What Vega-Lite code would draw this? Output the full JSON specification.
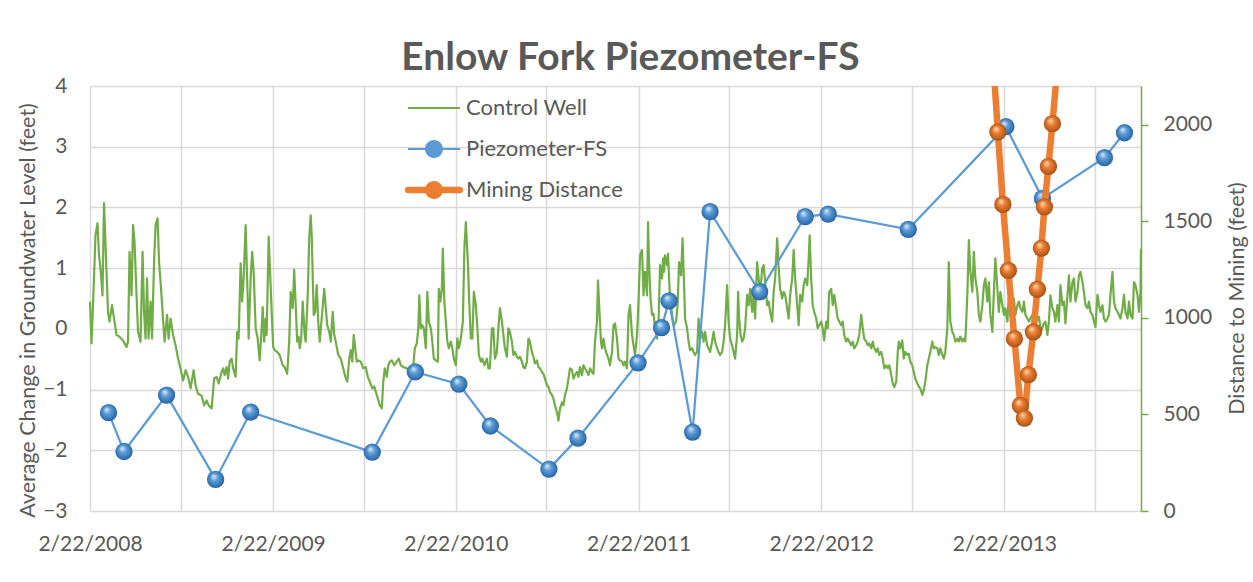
{
  "$schema": "https://vega.github.io/schema/vega-lite/v6.json",
  "width": 1051,
  "height": 425,
  "autosize": {"type": "none"},
  "padding": {"left": 90, "top": 86, "right": 112, "bottom": 71},
  "background": "white",
  "title": {"text": "Enlow Fork Piezometer-FS", "font": "Lato", "fontSize": 39, "fontWeight": "bold", "color": "#595959", "anchor": "middle", "frame": "group", "dx": 15, "dy": 50, "offset": 16, "baseline": "alphabetic"},
  "config": {
    "view": {"stroke": null},
    "font": "Lato",
    "axis": {"labelFont": "Lato", "titleFont": "Lato", "labelColor": "#595959", "titleColor": "#595959", "labelFontSize": 21, "titleFontSize": 21.5, "titleFontWeight": "normal"}
  },
  "datasets": {
    "control": [
      {"date":"2008-02-22","level":0.45},{"date":"2008-02-25","level":-0.24},{"date":"2008-02-28","level":0.39},{"date":"2008-03-04","level":1.54},{"date":"2008-03-08","level":1.74},{"date":"2008-03-11","level":1.21},{"date":"2008-03-14","level":0.99},{"date":"2008-03-18","level":0.55},{"date":"2008-03-21","level":2.07},{"date":"2008-03-26","level":0.94},{"date":"2008-03-29","level":0.28},{"date":"2008-04-01","level":0.12},{"date":"2008-04-06","level":0.39},{"date":"2008-04-10","level":0.17},{"date":"2008-04-15","level":-0.10},{"date":"2008-04-21","level":-0.13},{"date":"2008-04-28","level":-0.19},{"date":"2008-05-05","level":-0.30},{"date":"2008-05-08","level":-0.21},{"date":"2008-05-11","level":1.27},{"date":"2008-05-15","level":0.55},{"date":"2008-05-18","level":1.71},{"date":"2008-05-21","level":1.43},{"date":"2008-05-25","level":0.55},{"date":"2008-05-28","level":-0.05},{"date":"2008-06-02","level":-0.21},{"date":"2008-06-06","level":1.27},{"date":"2008-06-09","level":0.28},{"date":"2008-06-12","level":-0.16},{"date":"2008-06-15","level":0.83},{"date":"2008-06-18","level":-0.16},{"date":"2008-06-22","level":0.45},{"date":"2008-06-25","level":-0.16},{"date":"2008-06-29","level":1.10},{"date":"2008-07-02","level":1.71},{"date":"2008-07-06","level":1.82},{"date":"2008-07-09","level":1.10},{"date":"2008-07-12","level":0.77},{"date":"2008-07-16","level":0.28},{"date":"2008-07-20","level":-0.21},{"date":"2008-07-25","level":0.23},{"date":"2008-07-28","level":-0.16},{"date":"2008-08-01","level":0.17},{"date":"2008-08-06","level":-0.10},{"date":"2008-08-11","level":-0.27},{"date":"2008-08-16","level":-0.49},{"date":"2008-08-21","level":-0.66},{"date":"2008-08-26","level":-0.85},{"date":"2008-08-31","level":-0.68},{"date":"2008-09-05","level":-0.79},{"date":"2008-09-10","level":-0.98},{"date":"2008-09-16","level":-0.68},{"date":"2008-09-20","level":-0.93},{"date":"2008-09-25","level":-1.07},{"date":"2008-10-02","level":-1.10},{"date":"2008-10-07","level":-1.26},{"date":"2008-10-12","level":-1.18},{"date":"2008-10-16","level":-1.26},{"date":"2008-10-22","level":-1.31},{"date":"2008-10-27","level":-0.82},{"date":"2008-11-01","level":-0.79},{"date":"2008-11-05","level":-0.90},{"date":"2008-11-11","level":-0.71},
      {"date":"2008-11-14","level":-0.65},{"date":"2008-11-17","level":-0.76},{"date":"2008-11-21","level":-0.63},{"date":"2008-11-24","level":-0.82},{"date":"2008-11-27","level":-0.54},{"date":"2008-12-01","level":-0.49},{"date":"2008-12-04","level":-0.65},{"date":"2008-12-09","level":-0.79},{"date":"2008-12-12","level":-0.05},{"date":"2008-12-15","level":-0.16},{"date":"2008-12-19","level":1.08},{"date":"2008-12-22","level":0.45},{"date":"2008-12-25","level":0.83},{"date":"2008-12-29","level":1.71},{"date":"2009-01-01","level":0.83},{"date":"2009-01-04","level":-0.16},{"date":"2009-01-08","level":0.83},{"date":"2009-01-11","level":1.27},{"date":"2009-01-14","level":0.94},{"date":"2009-01-18","level":0.01},{"date":"2009-01-22","level":-0.16},{"date":"2009-01-26","level":-0.52},{"date":"2009-01-30","level":0.01},{"date":"2009-02-01","level":0.36},{"date":"2009-02-04","level":-0.21},{"date":"2009-02-07","level":0.17},{"date":"2009-02-09","level":-0.10},{"date":"2009-02-13","level":1.52},{"date":"2009-02-15","level":1.10},{"date":"2009-02-19","level":0.28},{"date":"2009-02-22","level":-0.30},{"date":"2009-02-25","level":-0.35},{"date":"2009-03-02","level":-0.38},{"date":"2009-03-07","level":-0.43},{"date":"2009-03-13","level":-0.60},{"date":"2009-03-17","level":-0.63},{"date":"2009-03-22","level":-0.74},{"date":"2009-03-26","level":-0.21},{"date":"2009-03-29","level":0.61},{"date":"2009-04-02","level":0.34},{"date":"2009-04-05","level":0.97},{"date":"2009-04-08","level":0.39},{"date":"2009-04-11","level":-0.21},{"date":"2009-04-14","level":-0.13},{"date":"2009-04-16","level":-0.32},{"date":"2009-04-19","level":-0.16},{"date":"2009-04-22","level":0.45},{"date":"2009-04-26","level":-0.10},{"date":"2009-04-28","level":-0.21},{"date":"2009-05-02","level":0.55},{"date":"2009-05-05","level":1.49},{"date":"2009-05-08","level":1.87},{"date":"2009-05-10","level":1.54},{"date":"2009-05-14","level":0.23},{"date":"2009-05-17","level":0.28},{"date":"2009-05-20","level":0.72},{"date":"2009-05-23","level":0.12},{"date":"2009-05-26","level":-0.21},{"date":"2009-06-04","level":0.66},{"date":"2009-06-06","level":0.45},{"date":"2009-06-10","level":0.06},{"date":"2009-06-14","level":-0.05},{"date":"2009-06-17","level":-0.21},{"date":"2009-06-21","level":0.28},{"date":"2009-06-24","level":-0.10},{"date":"2009-06-27","level":-0.21},{"date":"2009-07-02","level":-0.43},{"date":"2009-07-07","level":-0.49},{"date":"2009-07-12","level":-0.65},{"date":"2009-07-16","level":-0.79},{"date":"2009-07-20","level":-0.87},{"date":"2009-07-24","level":-0.49},{"date":"2009-07-27","level":-0.35},{"date":"2009-07-30","level":-0.54},{"date":"2009-08-02","level":-0.10},{"date":"2009-08-05","level":-0.32},{"date":"2009-08-08","level":-0.54},
      {"date":"2009-08-11","level":-0.52},{"date":"2009-08-16","level":-0.54},{"date":"2009-08-21","level":-0.65},{"date":"2009-08-26","level":-0.63},{"date":"2009-08-30","level":-0.79},{"date":"2009-09-03","level":-0.87},{"date":"2009-09-08","level":-0.98},{"date":"2009-09-12","level":-0.95},{"date":"2009-09-17","level":-1.09},{"date":"2009-09-20","level":-1.17},{"date":"2009-09-23","level":-1.26},{"date":"2009-09-27","level":-1.31},{"date":"2009-09-30","level":-0.87},{"date":"2009-10-03","level":-0.65},{"date":"2009-10-07","level":-0.79},{"date":"2009-10-10","level":-0.60},{"date":"2009-10-13","level":-0.54},{"date":"2009-10-17","level":-0.52},{"date":"2009-10-22","level":-0.60},{"date":"2009-10-27","level":-0.54},{"date":"2009-10-31","level":-0.49},{"date":"2009-11-04","level":-0.60},{"date":"2009-11-09","level":-0.63},{"date":"2009-11-16","level":-0.65},{"date":"2009-11-22","level":-0.68},{"date":"2009-11-29","level":-0.60},{"date":"2009-12-02","level":-0.32},{"date":"2009-12-06","level":-0.24},{"date":"2009-12-09","level":0.01},{"date":"2009-12-11","level":0.55},{"date":"2009-12-14","level":0.01},{"date":"2009-12-17","level":0.06},{"date":"2009-12-20","level":0.01},{"date":"2009-12-24","level":-0.32},{"date":"2009-12-27","level":0.61},{"date":"2009-12-30","level":0.12},{"date":"2010-01-03","level":0.01},{"date":"2010-01-06","level":-0.21},{"date":"2010-01-09","level":-0.49},{"date":"2010-01-13","level":-0.52},{"date":"2010-01-17","level":-0.54},{"date":"2010-01-19","level":0.66},{"date":"2010-01-22","level":0.45},{"date":"2010-01-25","level":0.66},{"date":"2010-01-27","level":1.32},{"date":"2010-01-30","level":0.45},{"date":"2010-02-02","level":0.12},{"date":"2010-02-05","level":-0.21},{"date":"2010-02-08","level":-0.32},{"date":"2010-02-12","level":-0.21},{"date":"2010-02-15","level":-0.32},{"date":"2010-02-18","level":-0.49},{"date":"2010-02-22","level":-0.60},{"date":"2010-02-25","level":-0.16},{"date":"2010-02-28","level":-0.32},{"date":"2010-03-04","level":-0.16},{"date":"2010-03-08","level":0.12},{"date":"2010-03-11","level":1.32},{"date":"2010-03-14","level":1.76},{"date":"2010-03-18","level":1.10},{"date":"2010-03-21","level":0.39},{"date":"2010-03-24","level":-0.16},{"date":"2010-03-27","level":-0.16},{"date":"2010-03-30","level":0.61},{"date":"2010-04-03","level":0.39},{"date":"2010-04-06","level":0.01},{"date":"2010-04-09","level":-0.43},{"date":"2010-04-13","level":-0.54},{"date":"2010-04-16","level":-0.49},{"date":"2010-04-20","level":-0.60},{"date":"2010-04-25","level":-0.49},{"date":"2010-04-28","level":-0.65},{"date":"2010-05-01","level":-0.65},{"date":"2010-05-05","level":0.01},
      {"date":"2010-05-08","level":0.01},{"date":"2010-05-11","level":-0.49},{"date":"2010-05-15","level":-0.38},{"date":"2010-05-18","level":0.01},{"date":"2010-05-21","level":0.34},{"date":"2010-05-25","level":0.12},{"date":"2010-05-28","level":-0.10},{"date":"2010-05-31","level":-0.32},{"date":"2010-06-04","level":-0.46},{"date":"2010-06-07","level":0.01},{"date":"2010-06-10","level":-0.05},{"date":"2010-06-14","level":-0.21},{"date":"2010-06-17","level":-0.43},{"date":"2010-06-20","level":-0.38},{"date":"2010-06-24","level":-0.46},{"date":"2010-06-27","level":-0.49},{"date":"2010-06-30","level":-0.46},{"date":"2010-07-04","level":-0.54},{"date":"2010-07-07","level":-0.63},{"date":"2010-07-10","level":-0.65},{"date":"2010-07-14","level":-0.54},{"date":"2010-07-17","level":-0.16},{"date":"2010-07-20","level":-0.21},{"date":"2010-07-24","level":-0.38},{"date":"2010-07-27","level":-0.46},{"date":"2010-07-30","level":-0.57},{"date":"2010-08-03","level":-0.52},{"date":"2010-08-06","level":-0.63},{"date":"2010-08-09","level":-0.65},{"date":"2010-08-13","level":-0.71},{"date":"2010-08-16","level":-0.74},{"date":"2010-08-19","level":-0.82},{"date":"2010-08-23","level":-0.93},{"date":"2010-08-26","level":-0.95},{"date":"2010-08-29","level":-1.04},{"date":"2010-09-02","level":-1.09},{"date":"2010-09-05","level":-1.15},{"date":"2010-09-08","level":-1.26},{"date":"2010-09-12","level":-1.37},{"date":"2010-09-15","level":-1.51},{"date":"2010-09-18","level":-1.32},{"date":"2010-09-22","level":-1.21},{"date":"2010-09-25","level":-1.26},{"date":"2010-09-28","level":-1.09},{"date":"2010-10-02","level":-0.98},{"date":"2010-10-05","level":-0.82},{"date":"2010-10-08","level":-0.65},{"date":"2010-10-12","level":-0.68},{"date":"2010-10-15","level":-0.82},{"date":"2010-10-18","level":-0.76},{"date":"2010-10-22","level":-0.71},{"date":"2010-10-25","level":-0.79},{"date":"2010-10-28","level":-0.63},{"date":"2010-11-01","level":-0.76},{"date":"2010-11-04","level":-0.60},{"date":"2010-11-07","level":-0.65},{"date":"2010-11-11","level":-0.71},{"date":"2010-11-14","level":-0.76},{"date":"2010-11-17","level":-0.65},{"date":"2010-11-21","level":-0.71},{"date":"2010-11-24","level":-0.74},{"date":"2010-11-27","level":-0.21},{"date":"2010-12-01","level":0.12},{"date":"2010-12-03","level":0.80},{"date":"2010-12-06","level":0.28},{"date":"2010-12-09","level":-0.21},{"date":"2010-12-11","level":-0.32},{"date":"2010-12-14","level":-0.16},{"date":"2010-12-17","level":-0.32},{"date":"2010-12-21","level":-0.43},{"date":"2010-12-24","level":-0.49},{"date":"2010-12-27","level":-0.60},{"date":"2010-12-31","level":-0.38},{"date":"2011-01-03","level":0.06},{"date":"2011-01-06","level":0.09},{"date":"2011-01-10","level":-0.16},{"date":"2011-01-13","level":-0.49},{"date":"2011-01-16","level":-0.52},{"date":"2011-01-20","level":-0.54},{"date":"2011-01-23","level":-0.60},{"date":"2011-01-26","level":-0.54},{"date":"2011-01-30","level":-0.65},
      {"date":"2011-02-02","level":0.23},{"date":"2011-02-05","level":0.39},{"date":"2011-02-09","level":-0.10},{"date":"2011-02-12","level":-0.27},{"date":"2011-02-15","level":-0.43},{"date":"2011-02-19","level":-0.10},{"date":"2011-02-22","level":0.45},{"date":"2011-02-25","level":1.21},{"date":"2011-03-01","level":1.30},{"date":"2011-03-04","level":0.55},{"date":"2011-03-07","level":0.94},{"date":"2011-03-11","level":0.55},{"date":"2011-03-13","level":1.76},{"date":"2011-03-15","level":1.10},{"date":"2011-03-18","level":0.50},{"date":"2011-03-21","level":0.23},{"date":"2011-03-24","level":0.25},{"date":"2011-03-27","level":0.01},{"date":"2011-03-31","level":-0.16},{"date":"2011-04-03","level":0.12},{"date":"2011-04-06","level":1.05},{"date":"2011-04-10","level":0.83},{"date":"2011-04-12","level":1.16},{"date":"2011-04-14","level":0.94},{"date":"2011-04-16","level":1.21},{"date":"2011-04-20","level":1.05},{"date":"2011-04-22","level":1.24},{"date":"2011-04-25","level":0.66},{"date":"2011-04-28","level":0.39},{"date":"2011-05-01","level":0.17},{"date":"2011-05-04","level":0.06},{"date":"2011-05-08","level":0.12},{"date":"2011-05-11","level":0.39},{"date":"2011-05-14","level":1.10},{"date":"2011-05-18","level":0.88},{"date":"2011-05-21","level":1.49},{"date":"2011-05-24","level":0.72},{"date":"2011-05-26","level":0.17},{"date":"2011-05-30","level":0.01},{"date":"2011-06-02","level":-0.21},{"date":"2011-06-05","level":-0.35},{"date":"2011-06-09","level":-0.32},{"date":"2011-06-12","level":-0.38},{"date":"2011-06-15","level":-0.43},{"date":"2011-06-19","level":-0.38},{"date":"2011-06-22","level":0.17},{"date":"2011-06-25","level":-0.16},{"date":"2011-06-29","level":-0.05},{"date":"2011-07-02","level":-0.21},{"date":"2011-07-05","level":-0.05},{"date":"2011-07-09","level":-0.27},{"date":"2011-07-12","level":-0.32},{"date":"2011-07-15","level":-0.38},{"date":"2011-07-19","level":-0.21},{"date":"2011-07-22","level":-0.05},{"date":"2011-07-25","level":-0.21},{"date":"2011-07-29","level":-0.32},{"date":"2011-08-01","level":-0.38},{"date":"2011-08-04","level":-0.43},{"date":"2011-08-08","level":-0.38},{"date":"2011-08-11","level":-0.21},{"date":"2011-08-14","level":0.06},{"date":"2011-08-18","level":0.72},{"date":"2011-08-21","level":0.12},{"date":"2011-08-24","level":-0.16},{"date":"2011-08-28","level":-0.27},{"date":"2011-08-31","level":-0.38},{"date":"2011-09-03","level":-0.49},{"date":"2011-09-07","level":-0.10},{"date":"2011-09-09","level":0.61},{"date":"2011-09-11","level":0.17},{"date":"2011-09-14","level":-0.10},{"date":"2011-09-17","level":-0.21},{"date":"2011-09-20","level":-0.16},{"date":"2011-09-23","level":0.01},{"date":"2011-09-27","level":0.56},{"date":"2011-09-30","level":0.39},{"date":"2011-10-03","level":0.66},{"date":"2011-10-07","level":0.28},{"date":"2011-10-10","level":0.56},{"date":"2011-10-13","level":0.17},{"date":"2011-10-17","level":1.10},{"date":"2011-10-20","level":0.83},{"date":"2011-10-23","level":0.56},{"date":"2011-10-27","level":0.99},{"date":"2011-10-30","level":1.05},
      {"date":"2011-11-02","level":0.77},{"date":"2011-11-06","level":0.39},{"date":"2011-11-09","level":0.45},{"date":"2011-11-12","level":0.28},{"date":"2011-11-16","level":0.12},{"date":"2011-11-19","level":0.61},{"date":"2011-11-22","level":0.83},{"date":"2011-11-26","level":1.49},{"date":"2011-11-29","level":1.00},{"date":"2011-12-02","level":0.66},{"date":"2011-12-06","level":0.50},{"date":"2011-12-09","level":0.61},{"date":"2011-12-12","level":0.56},{"date":"2011-12-16","level":0.34},{"date":"2011-12-19","level":0.17},{"date":"2011-12-22","level":0.56},{"date":"2011-12-26","level":0.83},{"date":"2011-12-29","level":1.30},{"date":"2012-01-01","level":0.83},{"date":"2012-01-05","level":0.39},{"date":"2012-01-08","level":0.06},{"date":"2012-01-11","level":0.56},{"date":"2012-01-15","level":0.45},{"date":"2012-01-18","level":0.72},{"date":"2012-01-21","level":0.83},{"date":"2012-01-25","level":0.72},{"date":"2012-01-28","level":1.16},{"date":"2012-01-30","level":1.54},{"date":"2012-02-02","level":0.83},{"date":"2012-02-05","level":0.39},{"date":"2012-02-08","level":0.28},{"date":"2012-02-12","level":0.17},{"date":"2012-02-15","level":0.01},{"date":"2012-02-18","level":0.06},{"date":"2012-02-22","level":0.12},{"date":"2012-02-25","level":0.01},{"date":"2012-02-28","level":-0.19},{"date":"2012-03-03","level":0.12},{"date":"2012-03-06","level":0.01},{"date":"2012-03-09","level":0.61},{"date":"2012-03-13","level":0.66},{"date":"2012-03-16","level":0.39},{"date":"2012-03-19","level":0.56},{"date":"2012-03-23","level":0.34},{"date":"2012-03-26","level":0.17},{"date":"2012-03-29","level":0.12},{"date":"2012-04-02","level":0.06},{"date":"2012-04-05","level":0.12},{"date":"2012-04-08","level":-0.10},{"date":"2012-04-12","level":-0.21},{"date":"2012-04-15","level":-0.16},{"date":"2012-04-18","level":-0.21},{"date":"2012-04-22","level":-0.27},{"date":"2012-04-25","level":-0.21},{"date":"2012-04-28","level":-0.32},{"date":"2012-05-02","level":-0.27},{"date":"2012-05-05","level":-0.21},{"date":"2012-05-08","level":-0.10},{"date":"2012-05-12","level":0.23},{"date":"2012-05-15","level":0.01},{"date":"2012-05-18","level":-0.16},{"date":"2012-05-22","level":-0.21},{"date":"2012-05-25","level":-0.27},{"date":"2012-05-28","level":-0.24},{"date":"2012-06-01","level":-0.32},{"date":"2012-06-04","level":-0.21},{"date":"2012-06-07","level":-0.32},{"date":"2012-06-11","level":-0.38},{"date":"2012-06-14","level":-0.32},{"date":"2012-06-17","level":-0.43},{"date":"2012-06-21","level":-0.38},{"date":"2012-06-24","level":-0.49},{"date":"2012-06-27","level":-0.65},{"date":"2012-07-01","level":-0.60},{"date":"2012-07-04","level":-0.65},{"date":"2012-07-07","level":-0.60},{"date":"2012-07-11","level":-0.76},{"date":"2012-07-14","level":-0.90},{"date":"2012-07-17","level":-0.96},{"date":"2012-07-21","level":-0.87},{"date":"2012-07-24","level":-0.38},
      {"date":"2012-07-26","level":-0.21},{"date":"2012-07-29","level":-0.32},{"date":"2012-08-02","level":-0.19},{"date":"2012-08-05","level":-0.49},{"date":"2012-08-08","level":-0.38},{"date":"2012-08-12","level":-0.43},{"date":"2012-08-15","level":-0.41},{"date":"2012-08-18","level":-0.54},{"date":"2012-08-22","level":-0.60},{"date":"2012-08-25","level":-0.71},{"date":"2012-08-28","level":-0.82},{"date":"2012-09-01","level":-0.90},{"date":"2012-09-04","level":-0.95},{"date":"2012-09-07","level":-0.98},{"date":"2012-09-11","level":-1.09},{"date":"2012-09-14","level":-1.01},{"date":"2012-09-17","level":-0.87},{"date":"2012-09-21","level":-0.60},{"date":"2012-09-24","level":-0.49},{"date":"2012-09-27","level":-0.38},{"date":"2012-10-01","level":-0.21},{"date":"2012-10-04","level":-0.32},{"date":"2012-10-07","level":-0.30},{"date":"2012-10-11","level":-0.32},{"date":"2012-10-14","level":-0.43},{"date":"2012-10-17","level":-0.32},{"date":"2012-10-21","level":-0.43},{"date":"2012-10-24","level":-0.49},{"date":"2012-10-27","level":-0.38},{"date":"2012-10-31","level":0.01},{"date":"2012-11-03","level":1.10},{"date":"2012-11-06","level":0.12},{"date":"2012-11-10","level":-0.05},{"date":"2012-11-13","level":-0.10},{"date":"2012-11-16","level":-0.21},{"date":"2012-11-20","level":-0.16},{"date":"2012-11-23","level":-0.21},{"date":"2012-11-26","level":-0.13},{"date":"2012-11-30","level":-0.21},{"date":"2012-12-03","level":-0.16},{"date":"2012-12-06","level":-0.21},{"date":"2012-12-10","level":0.56},{"date":"2012-12-13","level":1.46},{"date":"2012-12-16","level":0.94},{"date":"2012-12-20","level":0.61},{"date":"2012-12-23","level":1.27},{"date":"2012-12-26","level":0.83},{"date":"2012-12-30","level":0.61},{"date":"2013-01-02","level":0.23},{"date":"2013-01-05","level":0.12},{"date":"2013-01-09","level":0.39},{"date":"2013-01-12","level":0.72},{"date":"2013-01-15","level":0.83},{"date":"2013-01-19","level":0.45},{"date":"2013-01-22","level":0.77},{"date":"2013-01-25","level":0.23},{"date":"2013-01-29","level":-0.05},{"date":"2013-02-01","level":0.61},{"date":"2013-02-04","level":1.16},{"date":"2013-02-08","level":0.66},{"date":"2013-02-11","level":0.28},{"date":"2013-02-14","level":0.61},{"date":"2013-02-18","level":0.39},{"date":"2013-02-21","level":0.23},{"date":"2013-02-24","level":0.34},{"date":"2013-02-28","level":0.12},{"date":"2013-03-03","level":0.56},{"date":"2013-03-06","level":0.45},{"date":"2013-03-10","level":0.28},{"date":"2013-03-13","level":0.50},{"date":"2013-03-16","level":0.23},{"date":"2013-03-20","level":0.39},{"date":"2013-03-23","level":0.45},{"date":"2013-03-26","level":0.34},{"date":"2013-03-30","level":0.28},{"date":"2013-04-02","level":0.45},{"date":"2013-04-05","level":0.23},{"date":"2013-04-09","level":0.17},{"date":"2013-04-12","level":0.12},{"date":"2013-04-15","level":0.17},{"date":"2013-04-19","level":0.23},{"date":"2013-04-26","level":0.10},{"date":"2013-05-02","level":0.20},{"date":"2013-05-06","level":-0.05},
      {"date":"2013-05-12","level":0.09},{"date":"2013-05-15","level":0.12},{"date":"2013-05-19","level":-0.10},{"date":"2013-05-22","level":0.12},{"date":"2013-05-25","level":0.55},{"date":"2013-05-29","level":0.34},{"date":"2013-06-01","level":0.28},{"date":"2013-06-04","level":0.12},{"date":"2013-06-08","level":0.39},{"date":"2013-06-11","level":0.12},{"date":"2013-06-14","level":0.72},{"date":"2013-06-18","level":0.39},{"date":"2013-06-21","level":0.45},{"date":"2013-06-24","level":0.09},{"date":"2013-06-28","level":0.55},{"date":"2013-07-01","level":0.88},{"date":"2013-07-04","level":0.45},{"date":"2013-07-08","level":0.77},{"date":"2013-07-11","level":0.83},{"date":"2013-07-14","level":0.45},{"date":"2013-07-18","level":0.61},{"date":"2013-07-21","level":0.88},{"date":"2013-07-24","level":0.94},{"date":"2013-07-28","level":0.77},{"date":"2013-07-31","level":0.61},{"date":"2013-08-03","level":0.39},{"date":"2013-08-07","level":0.34},{"date":"2013-08-10","level":0.45},{"date":"2013-08-13","level":0.28},{"date":"2013-08-17","level":0.23},{"date":"2013-08-20","level":0.12},{"date":"2013-08-23","level":0.03},{"date":"2013-08-27","level":0.56},{"date":"2013-08-30","level":0.39},{"date":"2013-09-02","level":0.28},{"date":"2013-09-06","level":0.39},{"date":"2013-09-09","level":0.17},{"date":"2013-09-12","level":0.12},{"date":"2013-09-16","level":0.17},{"date":"2013-09-19","level":0.23},{"date":"2013-09-22","level":0.56},{"date":"2013-09-26","level":0.94},{"date":"2013-09-29","level":0.45},{"date":"2013-10-02","level":0.34},{"date":"2013-10-06","level":0.28},{"date":"2013-10-09","level":0.23},{"date":"2013-10-12","level":0.17},{"date":"2013-10-16","level":0.34},{"date":"2013-10-19","level":0.56},{"date":"2013-10-22","level":0.28},{"date":"2013-10-26","level":0.17},{"date":"2013-10-29","level":0.45},{"date":"2013-11-01","level":0.23},{"date":"2013-11-05","level":0.17},{"date":"2013-11-08","level":0.77},{"date":"2013-11-11","level":0.72},{"date":"2013-11-15","level":0.56},{"date":"2013-11-18","level":0.28},{"date":"2013-11-21","level":0.61},{"date":"2013-11-22","level":1.32}
    ],
    "piezo": [
      {"date":"2008-03-30","level":-1.38},{"date":"2008-04-30","level":-2.02},{"date":"2008-07-24","level":-1.09},{"date":"2008-10-30","level":-2.48},{"date":"2009-01-08","level":-1.37},{"date":"2009-09-08","level":-2.03},{"date":"2009-12-03","level":-0.71},{"date":"2010-02-28","level":-0.91},{"date":"2010-05-02","level":-1.60},{"date":"2010-08-27","level":-2.31},{"date":"2010-10-24","level":-1.80},{"date":"2011-02-21","level":-0.56},{"date":"2011-04-09","level":0.02},{"date":"2011-04-24","level":0.46},{"date":"2011-06-10","level":-1.70},{"date":"2011-07-15","level":1.93},{"date":"2011-10-22","level":0.61},{"date":"2012-01-21","level":1.85},{"date":"2012-03-07","level":1.89},{"date":"2012-08-14","level":1.64},{"date":"2013-02-25","level":3.33},{"date":"2013-05-09","level":2.15},{"date":"2013-09-10","level":2.82},{"date":"2013-10-20","level":3.23}
    ],
    "mining": [
      {"date":"2013-01-29","distance":2390},{"date":"2013-02-09","distance":1962},{"date":"2013-02-19","distance":1587},{"date":"2013-03-02","distance":1246},{"date":"2013-03-14","distance":892},{"date":"2013-03-26","distance":547},{"date":"2013-04-03","distance":481},{"date":"2013-04-11","distance":706},{"date":"2013-04-21","distance":927},{"date":"2013-04-29","distance":1148},{"date":"2013-05-07","distance":1361},{"date":"2013-05-13","distance":1574},{"date":"2013-05-21","distance":1784},{"date":"2013-05-29","distance":2005},{"date":"2013-06-10","distance":2359}
    ],
    "legendrows": [
      {"series":"Control Well"},{"series":"Piezometer-FS"},{"series":"Mining Distance"}
    ]
  },
  "encoding": {
    "x": {
      "field": "date", "type": "temporal",
      "scale": {"type": "utc", "domain": [{"year": 2008, "month": 2, "date": 22, "utc": true}, {"year": 2013, "month": 11, "date": 22, "utc": true}]},
      "axis": {
        "values": [
          {"year": 2008, "month": 2, "date": 22, "utc": true}, {"year": 2008, "month": 8, "date": 22, "utc": true},
          {"year": 2009, "month": 2, "date": 22, "utc": true}, {"year": 2009, "month": 8, "date": 22, "utc": true},
          {"year": 2010, "month": 2, "date": 22, "utc": true}, {"year": 2010, "month": 8, "date": 22, "utc": true},
          {"year": 2011, "month": 2, "date": 22, "utc": true}, {"year": 2011, "month": 8, "date": 22, "utc": true},
          {"year": 2012, "month": 2, "date": 22, "utc": true}, {"year": 2012, "month": 8, "date": 22, "utc": true},
          {"year": 2013, "month": 2, "date": 22, "utc": true}, {"year": 2013, "month": 8, "date": 22, "utc": true}
        ],
        "labelExpr": "utcmonth(datum.value) == 1 ? utcFormat(datum.value, '%-m/%-d/%Y') : ''",
        "grid": true, "gridColor": "#d9d9d9", "gridWidth": 1.5,
        "ticks": false, "domain": false, "labelPadding": 22,
        "labelOverlap": false, "labelFlush": false, "title": null
      }
    }
  },
  "layer": [
    {
      "encoding": {
        "y": {
          "field": "level", "type": "quantitative",
          "scale": {"domain": [-3, 4], "nice": false, "zero": false},
          "axis": {
            "orient": "left", "values": [-3, -2, -1, 0, 1, 2, 3, 4],
            "grid": true, "gridColor": "#d9d9d9", "gridWidth": 1.5,
            "domain": false, "ticks": false, "labelPadding": 23,
            "title": "Average  Change in Groundwater Level (feet)",
            "titleAngle": -90, "titleX": -62, "titleY": 224, "titleAlign": "center", "titleBaseline": "middle"
          }
        }
      },
      "layer": [
        {
          "data": {"name": "control"},
          "mark": {"type": "line", "color": "#70AD47", "strokeWidth": 2.2, "strokeJoin": "round"}
        },
        {
          "data": {"name": "piezo"},
          "mark": {"type": "line", "color": "#5B9BD5", "strokeWidth": 2.25}
        },
        {
          "data": {"name": "piezo"},
          "mark": {
            "type": "point", "filled": true, "size": 300, "opacity": 1, "strokeWidth": 0,
            "fill": {"gradient": "radial", "x1": 0.38, "y1": 0.3, "r1": 0, "x2": 0.5, "y2": 0.5, "r2": 0.55,
              "stops": [{"offset": 0, "color": "#dff0ff"}, {"offset": 0.4, "color": "#5b9bd5"}, {"offset": 0.85, "color": "#2f6eae"}, {"offset": 1, "color": "#1d4f82"}]}
          }
        },
        {
          "data": {"name": "legendrows"},
          "mark": {"type": "point", "filled": true, "opacity": 0},
          "encoding": {
            "color": {
              "field": "series", "type": "nominal",
              "scale": {"domain": ["Control Well", "Piezometer-FS", "Mining Distance"], "range": ["#70AD47", "#5B9BD5", "#ED7D31"]},
              "legend": {"orient": "none", "legendX": 326, "legendY": 4, "title": null, "labelFont": "Lato", "labelFontSize": 22, "labelColor": "#595959", "symbolSize": 1296, "symbolStrokeWidth": 0, "symbolOpacity": 1, "rowPadding": 12, "labelOffset": 14, "padding": 0, "direction": "vertical"}
            },
            "shape": {
              "field": "series", "type": "nominal",
              "scale": {"domain": ["Control Well", "Piezometer-FS", "Mining Distance"], "range": [
                "M-1.444,-0.056H1.444V0.056H-1.444Z",
                "M-1.444,-0.056H1.444V0.056H-1.444ZM-0.5,0A0.5,0.5 0 1,1 0.5,0A0.5,0.5 0 1,1 -0.5,0Z",
                "M-1.444,-0.18H1.444A0.18,0.18 0 0,1 1.444,0.18H-1.444A0.18,0.18 0 0,1 -1.444,-0.18ZM-0.5,0A0.5,0.5 0 1,1 0.5,0A0.5,0.5 0 1,1 -0.5,0Z"
              ]},
              "legend": {"orient": "none", "legendX": 326, "legendY": 4, "title": null, "labelFont": "Lato", "labelFontSize": 22, "labelColor": "#595959", "symbolSize": 1296, "symbolStrokeWidth": 0, "symbolOpacity": 1, "rowPadding": 12, "labelOffset": 14, "padding": 0, "direction": "vertical"}
            }
          }
        }
      ]
    },
    {
      "data": {"name": "mining"},
      "encoding": {
        "y": {
          "field": "distance", "type": "quantitative",
          "scale": {"domain": [0, 2200], "nice": false},
          "axis": {
            "orient": "right", "values": [0, 500, 1000, 1500, 2000], "format": "d", "grid": false,
            "domain": true, "domainColor": "#70AD47", "domainWidth": 1.5,
            "ticks": true, "tickColor": "#70AD47", "tickSize": 7, "tickWidth": 1.5,
            "labelPadding": 15,
            "title": "Distance to Mining (feet)",
            "titleAngle": -90, "titleX": 96, "titleY": 212, "titleAlign": "center", "titleBaseline": "middle"
          }
        }
      },
      "layer": [
        {
          "mark": {"type": "line", "color": "#ED7D31", "strokeWidth": 6.5, "clip": true, "strokeJoin": "round", "strokeCap": "round"}
        },
        {
          "mark": {
            "type": "point", "filled": true, "size": 300, "opacity": 1, "strokeWidth": 0, "clip": true,
            "fill": {"gradient": "radial", "x1": 0.38, "y1": 0.3, "r1": 0, "x2": 0.5, "y2": 0.5, "r2": 0.55,
              "stops": [{"offset": 0, "color": "#ffe2bd"}, {"offset": 0.4, "color": "#ed7d31"}, {"offset": 0.85, "color": "#b45a1c"}, {"offset": 1, "color": "#7a3a0e"}]}
          }
        }
      ]
    }
  ],
  "resolve": {"scale": {"y": "independent"}}
}
